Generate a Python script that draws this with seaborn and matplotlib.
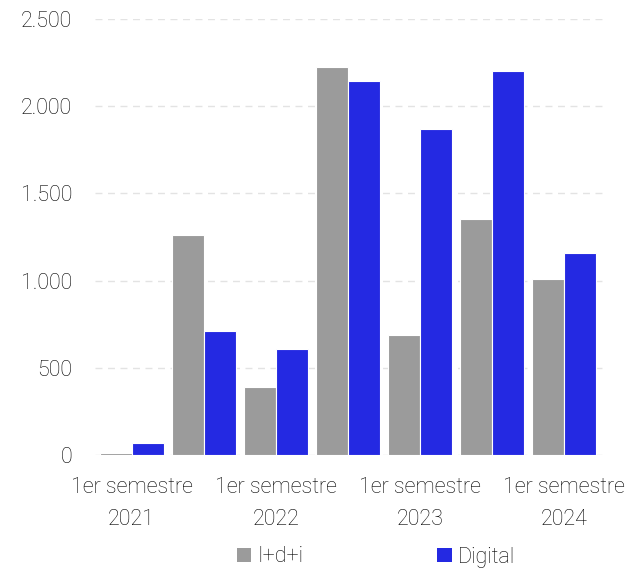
import matplotlib
matplotlib.use("Agg")
import matplotlib.pyplot as plt
import seaborn as sns
import pandas as pd
from matplotlib.ticker import FuncFormatter
from matplotlib.patches import Patch

categories = ["1er semestre\n2021", "2º semestre\n2021", "1er semestre\n2022", "2º semestre\n2022",
              "1er semestre\n2023", "2º semestre\n2023", "1er semestre\n2024"]
tick_labels = ["1er semestre\n2021", "", "1er semestre\n2022", "", "1er semestre\n2023", "", "1er semestre\n2024"]
idi_values = [10, 1263, 390, 2226, 690, 1355, 1010]
digital_values = [70, 712, 608, 2146, 1870, 2203, 1160]
series_names = ["I+d+i", "Digital"]
yticks = [0, 500, 1000, 1500, 2000, 2500]

df = pd.DataFrame({
    "cat": categories * 2,
    "serie": [series_names[0]] * len(categories) + [series_names[1]] * len(categories),
    "valor": idi_values + digital_values,
})

sns.set_theme(style="white")
plt.rcParams['font.family'] = ['Roboto', 'DejaVu Sans']

FS = 15.5
TC = "#000000"
W = "light"

fig = plt.figure(figsize=(6.43, 5.69), dpi=100)
ax = fig.add_axes([95/643, (569-455)/569, (603-95)/643, (455-19)/569])

palette = {"I+d+i": "#9B9B9B", "Digital": "#2429E2"}
sns.barplot(data=df, x="cat", y="valor", hue="serie", order=categories, hue_order=series_names,
            palette=palette, width=0.89, ax=ax, edgecolor="white", linewidth=0.8, saturation=1,
            legend=False)

ax.set_ylim(0, 2500)
ax.set_xlim(-0.51, 6.54)
ax.set_yticks(yticks)
ax.yaxis.set_major_formatter(FuncFormatter(lambda v, p: f"{int(v):,}".replace(",", ".")))
ax.set_xticks(range(len(categories)))
ax.set_xticklabels(tick_labels, fontsize=FS, color=TC, fontweight=W, linespacing=1.7)
for lab in ax.get_yticklabels():
    lab.set_fontsize(FS)
    lab.set_color(TC)
    lab.set_fontweight(W)
ax.tick_params(axis="y", length=0, pad=16.5)
ax.tick_params(axis="x", length=0, pad=16)
ax.set_xlabel("")
ax.set_ylabel("")
for s in ax.spines.values():
    s.set_visible(False)
ax.yaxis.grid(True, color="#E3E3E3", linestyle=(0, (5, 4)), linewidth=1)
ax.set_axisbelow(True)

handles = [Patch(facecolor=palette[n], edgecolor="none") for n in series_names]
leg = fig.legend(handles, series_names, loc="center", bbox_to_anchor=(376/643, 1-557/569), ncol=2,
                 frameon=False, prop={"size": FS, "weight": W}, handlelength=0.68, handleheight=0.68,
                 handletextpad=0.3, columnspacing=6.2)
for t in leg.get_texts():
    t.set_color(TC)

fig.savefig("out.png", dpi=100)
